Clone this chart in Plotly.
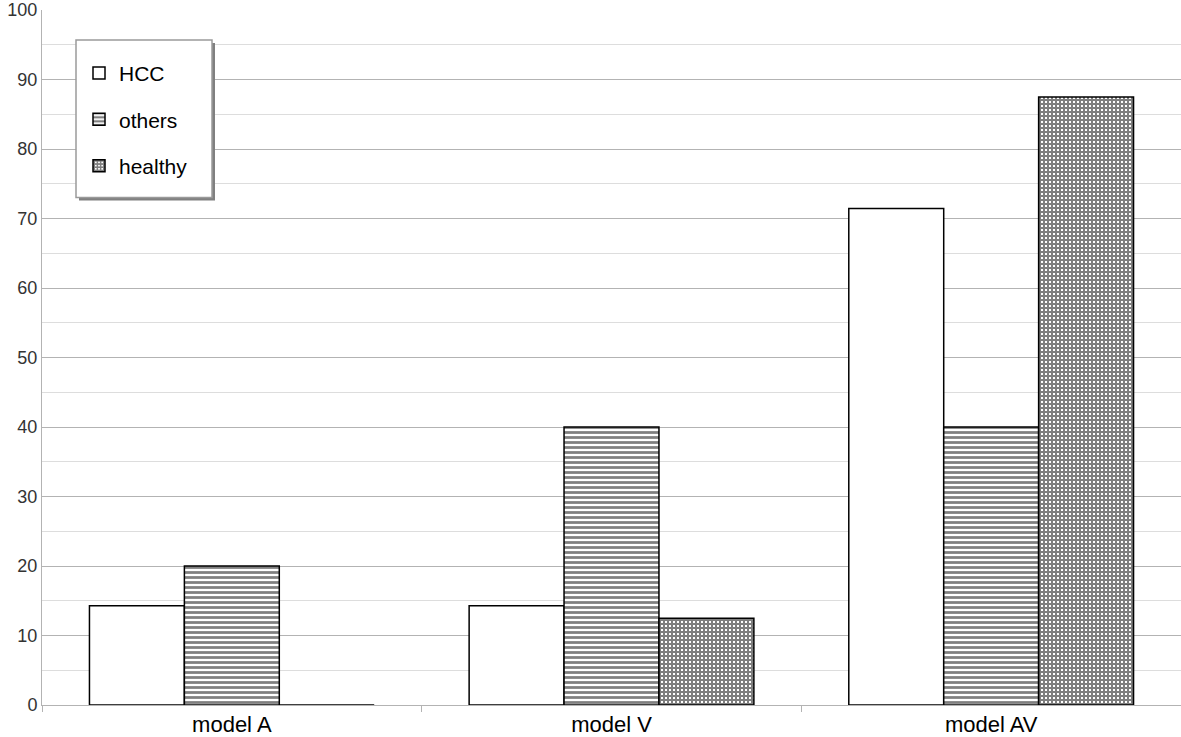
import plotly.graph_objects as go

models = ["model A", "model V", "model AV"]
hcc = [14.29, 14.29, 71.43]
others = [20.0, 40.0, 40.0]
healthy = [0.0, 12.5, 87.5]

series = [
    ("HCC", hcc, dict(shape="")),
    ("others", others, dict(shape="-", fgcolor="black", bgcolor="white", size=5, solidity=0.55)),
    ("healthy", healthy, dict(shape="+", fgcolor="black", bgcolor="white", size=4, solidity=0.75)),
]

fig = go.Figure()
for name, vals, pat in series:
    fig.add_trace(go.Bar(
        x=models, y=vals, name=name, legendgroup=name,
        marker=dict(color="white", line=dict(color="black", width=1.5), pattern=pat),
    ))

# legend box drawn by hand so its size and shadow match
px_x = 1 / 1139
px_y = 1 / 697
box = dict(x0=(76 - 42) * px_x, x1=(212 - 42) * px_x,
           y0=(707 - 198) * px_y, y1=(707 - 40) * px_y)
fig.add_shape(type="rect", xref="paper", yref="paper", layer="above",
              x0=box["x0"] + 3 * px_x, x1=box["x1"] + 3 * px_x,
              y0=box["y0"] - 3 * px_y, y1=box["y1"] - 3 * px_y,
              fillcolor="#808080", line=dict(width=0))
fig.add_shape(type="rect", xref="paper", yref="paper", layer="above",
              fillcolor="white", line=dict(color="#9a9a9a", width=1.5), **box)

fig.update_layout(
    width=1181, height=737,
    margin=dict(l=42, r=0, t=10, b=30),
    plot_bgcolor="white", paper_bgcolor="white",
    font=dict(family="Liberation Sans, Arial, sans-serif", color="#333"),
    barmode="group", bargap=0.25, bargroupgap=0,
    legend=dict(
        x=(79 - 42) * px_x, y=(707 - 53) * px_y, xanchor="left", yanchor="top",
        borderwidth=0, bgcolor="rgba(0,0,0,0)",
        font=dict(size=21, color="black"), tracegroupgap=16,
    ),
    showlegend=True,
)
fig.update_yaxes(
    range=[0, 100], dtick=10, showgrid=True, gridcolor="#b3b3b3", gridwidth=1,
    minor=dict(dtick=5, showgrid=True, gridcolor="#dddddd", gridwidth=1),
    showline=True, linecolor="#b3b3b3", linewidth=1,
    tickfont=dict(size=18, color="#333"), zeroline=False, ticks="",
)
fig.update_xaxes(
    showline=True, linecolor="#b3b3b3", linewidth=1,
    tickson="boundaries", ticks="outside", ticklen=6, tickcolor="#b3b3b3",
    tickfont=dict(size=22, color="black"),
)

fig.write_html("out.html", config={"displayModeBar": False},
               post_script="document.body.style.margin='0';")
